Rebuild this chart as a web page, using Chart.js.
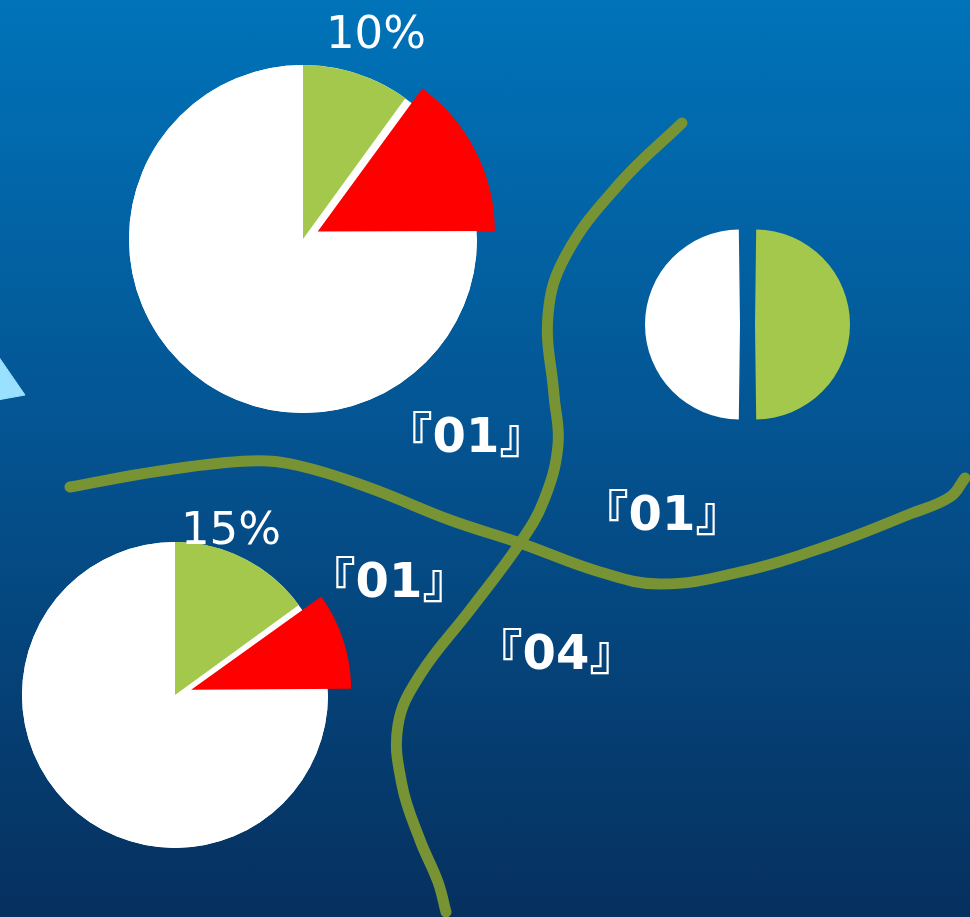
<!DOCTYPE html>
<html>
<head>
<meta charset="utf-8">
<script src="https://cdn.jsdelivr.net/npm/chart.js@4.4.1/dist/chart.umd.min.js"></script>
<style>
  html, body { margin: 0; padding: 0; }
  #stage {
    position: relative;
    width: 970px;
    height: 917px;
    overflow: hidden;
    background: linear-gradient(to bottom, #0073b9 0%, #04528f 50%, #06305e 100%);
  }
  canvas { position: absolute; }
  .lbl {
    position: absolute;
    transform: translate(-50%, -50%);
    color: #fff;
    line-height: 1;
    white-space: nowrap;
  }
  .pct { font-family: "DejaVu Sans", sans-serif; font-size: 45px; font-weight: normal; }
  .tag { font-family: "DejaVu Sans", "Noto Sans CJK JP", sans-serif; font-size: 48px; font-weight: bold; }
</style>
</head>
<body>
<div id="stage">
  <canvas id="bg" width="970" height="917" style="left:0;top:0"></canvas>
  <canvas id="pie1" width="414" height="414" style="left:96px;top:32px"></canvas>
  <canvas id="pie2" width="374" height="374" style="left:-12px;top:508px"></canvas>
  <canvas id="pie3" width="205" height="205" style="left:645px;top:222px"></canvas>
  <div class="lbl pct" style="left:376px;top:32px">10%</div>
  <div class="lbl pct" style="left:231px;top:528px">15%</div>
  <div class="lbl tag" style="left:466px;top:435px">『01』</div>
  <div class="lbl tag" style="left:662px;top:513px">『01』</div>
  <div class="lbl tag" style="left:389px;top:580px">『01』</div>
  <div class="lbl tag" style="left:556px;top:652px">『04』</div>
</div>
<script>
// pie values (percent)
const sliceLabels = ["緑", "赤", "その他"];
const pie1Values = [10, 15, 75];
const pie2Values = [15, 10, 75];
const halfLabels = ["緑", "白"];
const pie3Values = [50, 50];

// hand drawn divider curves (page units)
const curveA = [
  {x: 70, y: 487}, {x: 160, y: 471}, {x: 250, y: 461}, {x: 300, y: 466},
  {x: 370, y: 488}, {x: 450, y: 520}, {x: 520, y: 543}, {x: 600, y: 572},
  {x: 660, y: 584}, {x: 740, y: 572}, {x: 830, y: 545}, {x: 910, y: 514},
  {x: 950, y: 497}, {x: 965, y: 478}
];
const curveB = [
  {x: 682, y: 123}, {x: 620, y: 183}, {x: 566, y: 255}, {x: 548, y: 315},
  {x: 554, y: 395}, {x: 558, y: 445}, {x: 544, y: 500}, {x: 520, y: 543},
  {x: 470, y: 610}, {x: 420, y: 675}, {x: 398, y: 725}, {x: 402, y: 785},
  {x: 420, y: 840}, {x: 438, y: 882}, {x: 446, y: 912}
];
const arrowTip = [{x: -30, y: 315}, {x: 25, y: 395}, {x: -30, y: 405}, {x: -30, y: 315}];

const GREEN = "#a4c84c";
const RED = "#ff0000";
const WHITE = "#ffffff";
const LINE = "#779334";

Chart.defaults.animation = false;
Chart.defaults.devicePixelRatio = 1;

// background layer: curves and the light blue triangle
new Chart(document.getElementById("bg"), {
  type: "scatter",
  data: {
    datasets: [
      {data: arrowTip, showLine: true, fill: "shape", backgroundColor: "#99e1ff",
       borderColor: "#99e1ff", borderWidth: 1, pointRadius: 0, tension: 0},
      {data: curveA, showLine: true, borderColor: LINE, borderWidth: 11,
       borderCapStyle: "round", pointRadius: 0, tension: 0.4},
      {data: curveB, showLine: true, borderColor: LINE, borderWidth: 11,
       borderCapStyle: "round", pointRadius: 0, tension: 0.4}
    ]
  },
  options: {
    responsive: false,
    layout: {padding: 0},
    plugins: {legend: {display: false}, tooltip: {enabled: false}},
    scales: {
      x: {type: "linear", min: 0, max: 970, display: false},
      y: {type: "linear", min: 0, max: 917, reverse: true, display: false}
    }
  }
});

// white disc behind exploded pies so the gap shows white
const whiteDisc = {
  id: "whiteDisc",
  beforeDatasetsDraw(chart) {
    const arc = chart.getDatasetMeta(0).data[0];
    const {x, y, outerRadius} = arc.getProps(["x", "y", "outerRadius"], true);
    const ctx = chart.ctx;
    ctx.save();
    ctx.beginPath();
    ctx.arc(x, y, outerRadius, 0, Math.PI * 2);
    ctx.fillStyle = WHITE;
    ctx.fill();
    ctx.restore();
  }
};

function makePie(id, labels, values, colors, offsets, plugins) {
  return new Chart(document.getElementById(id), {
    type: "pie",
    data: {
      labels: labels,
      datasets: [{
        data: values,
        backgroundColor: colors,
        borderWidth: 0,
        offset: offsets,
        hoverOffset: 0
      }]
    },
    options: {
      responsive: false,
      layout: {padding: 0},
      plugins: {legend: {display: false}, tooltip: {enabled: false}}
    },
    plugins: plugins
  });
}

makePie("pie1", sliceLabels, pie1Values, [GREEN, RED, WHITE], [0, 66, 0], [whiteDisc]);
makePie("pie2", sliceLabels, pie2Values, [GREEN, RED, WHITE], [0, 68, 0], [whiteDisc]);
makePie("pie3", halfLabels, pie3Values, [GREEN, WHITE], [30, 30], []);
</script>
</body>
</html>
